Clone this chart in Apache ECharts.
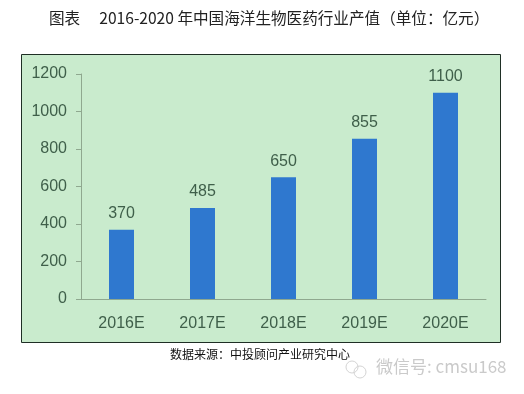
<!DOCTYPE html>
<html>
<head>
<meta charset="utf-8">
<style>
html,body{margin:0;padding:0;background:#fff;}
#main{width:524px;height:394px;}
</style>
<script src="https://cdn.jsdelivr.net/npm/echarts@6/dist/echarts.min.js"></script>
</head>
<body>
<div id="main"></div>
<script>
// 数据
var years = ['2016E', '2017E', '2018E', '2019E', '2020E'];
var values = [370, 485, 650, 855, 1100];
var chartTitle = '图表\u3000 2016-2020 年中国海洋生物医药行业产值（单位：亿元）';
var sourceText = '数据来源：中投顾问产业研究中心';
var markText = '微信号: cmsu168';

var cjk = '"Noto Sans CJK SC", "Liberation Sans", sans-serif';
var latin = '"Liberation Sans", sans-serif';
var labelColor = '#3f5f4a';
var axisColor = '#8fa88f';

var myChart = echarts.init(document.getElementById('main'), null, {renderer: 'canvas'});

var option = {
    backgroundColor: '#ffffff',
    animation: false,
    grid: {left: 81, right: 38, top: 74, bottom: 95},
    xAxis: {
        type: 'category',
        data: years,
        axisTick: {show: false},
        axisLine: {lineStyle: {color: axisColor, width: 1}},
        axisLabel: {color: labelColor, fontSize: 16, margin: 17, fontFamily: latin}
    },
    yAxis: {
        type: 'value',
        min: 0,
        max: 1200,
        interval: 200,
        splitLine: {show: false},
        axisLine: {show: true, lineStyle: {color: axisColor, width: 1}},
        axisTick: {show: true, length: 5, lineStyle: {color: axisColor}},
        axisLabel: {
            color: labelColor,
            fontSize: 16,
            margin: 14,
            fontFamily: latin,
            formatter: function (v) { return String(v); }
        }
    },
    series: [{
        type: 'bar',
        data: values,
        barWidth: 25,
        itemStyle: {color: '#2f78cf'},
        label: {
            show: true,
            position: 'top',
            distance: 8,
            color: labelColor,
            fontSize: 16,
            fontFamily: latin
        }
    }],
    graphic: [
        // 绿色底框
        {type: 'rect', z: -1, shape: {x: 21.5, y: 54.5, width: 479, height: 288},
            style: {fill: '#c9ebcd', stroke: '#1f2f25', lineWidth: 1}},
        {type: 'text', left: 49, top: 10, style: {text: chartTitle, font: '15.6px ' + cjk, fill: '#222'}},
        {type: 'text', left: 170, top: 348, style: {text: sourceText, font: '12px ' + cjk, fill: '#111'}},
        // 水印
        {type: 'circle', shape: {cx: 352, cy: 367, r: 6}, style: {fill: 'none', stroke: '#d4d4d4', lineWidth: 1}},
        {type: 'circle', shape: {cx: 360, cy: 372, r: 6}, style: {fill: 'none', stroke: '#d4d4d4', lineWidth: 1}},
        {type: 'text', left: 376, top: 358, style: {text: markText, font: '17px ' + cjk, fill: '#cacaca'}}
    ]
};

myChart.setOption(option);
</script>
</body>
</html>
